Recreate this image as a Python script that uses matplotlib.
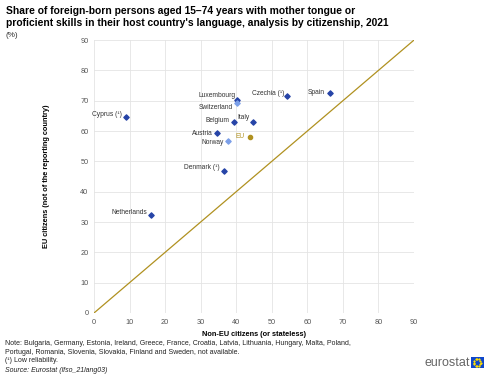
import numpy as np
import matplotlib
matplotlib.use("Agg")
import matplotlib.pyplot as plt

plt.rcParams["font.family"] = ["Liberation Sans", "DejaVu Sans"]

# data
countries = ["Cyprus (¹)", "Netherlands", "Luxembourg", "Czechia (¹)", "Spain",
             "Belgium", "Italy", "Austria", "Denmark (¹)"]
non_eu = [9.0, 16.1, 40.1, 54.4, 66.5, 39.3, 44.6, 34.7, 36.6]
eu_cit = [64.5, 32.2, 70.4, 71.6, 72.6, 63.1, 63.1, 59.3, 46.9]

efta = ["Switzerland", "Norway"]
efta_non_eu = [40.1, 37.6]
efta_eu_cit = [69.3, 56.6]

eu_label = "EU"
eu_non_eu = 43.9
eu_eu_cit = 57.9

ticks = list(range(0, 100, 10))

blue = "#2644A7"
light_blue = "#7B9FE8"
gold = "#B09120"

fig = plt.figure(figsize=(5, 3.78), dpi=100)
ax = fig.add_axes([0.188, 0.172, 0.640, 0.722])

ax.plot([0, 90], [0, 90], color=gold, lw=0.9, zorder=1)
ax.scatter(non_eu, eu_cit, marker="D", s=7, color=blue, zorder=3)
ax.scatter(efta_non_eu, efta_eu_cit, marker="D", s=7, color=light_blue, zorder=3)
ax.scatter([eu_non_eu], [eu_eu_cit], marker="o", s=9, color=gold, zorder=3)

# label offsets (points) for each marker
offs = {
    "Cyprus (¹)": (-3, 2), "Netherlands": (-3, 2),
    "Luxembourg": (-1, 3), "Czechia (¹)": (-2, 2),
    "Spain": (-4, 0), "Belgium": (-3, 1),
    "Italy": (-2, 3), "Austria": (-3, 0),
    "Denmark (¹)": (-3, 2),
}
for name, x, y in zip(countries, non_eu, eu_cit):
    dx, dy = offs[name]
    ax.annotate(name, (x, y), xytext=(dx, dy), textcoords="offset points",
                ha="right", va="center", fontsize=4.8, color="#333333")
ax.annotate("Switzerland", (efta_non_eu[0], efta_eu_cit[0]), xytext=(-3, -3),
            textcoords="offset points", ha="right", va="center", fontsize=4.8, color="#333333")
ax.annotate("Norway", (efta_non_eu[1], efta_eu_cit[1]), xytext=(-3, -1),
            textcoords="offset points", ha="right", va="center", fontsize=4.8, color="#333333")
ax.annotate(eu_label, (eu_non_eu, eu_eu_cit), xytext=(-4, 1),
            textcoords="offset points", ha="right", va="center", fontsize=4.8, color=gold)

ax.set_xlim(0, 90)
ax.set_ylim(0, 90)
ax.set_xticks(ticks)
ax.set_yticks(ticks)
ax.grid(True, color="#E4E4E4", lw=0.6)
ax.set_axisbelow(True)
for s in ax.spines.values():
    s.set_visible(False)
ax.tick_params(length=0, labelsize=5.3, colors="#555555", pad=4)

ax.set_xlabel("Non-EU citizens (or stateless)", fontsize=5.3, fontweight="bold", labelpad=4)
ax.set_ylabel("EU citizens (not of the reporting country)", fontsize=5.3, fontweight="bold", labelpad=22)

fig.text(0.012, 0.985, "Share of foreign-born persons aged 15\u201374 years with mother tongue or\n"
         "proficient skills in their host country's language, analysis by citizenship, 2021",
         fontsize=7.4, fontweight="bold", va="top", ha="left", linespacing=1.3)
fig.text(0.012, 0.916, "(%)", fontsize=5.8, va="top", ha="left", color="#333333")

fig.text(0.01, 0.101, "Note: Bulgaria, Germany, Estonia, Ireland, Greece, France, Croatia, Latvia, Lithuania, Hungary, Malta, Poland,\n"
         "Portugal, Romania, Slovenia, Slovakia, Finland and Sweden, not available.",
         fontsize=5, va="top", ha="left", color="#222222", linespacing=1.35)
fig.text(0.01, 0.055, "(¹) Low reliability.", fontsize=5, va="top", ha="left", color="#222222")
fig.text(0.01, 0.030, "Source: Eurostat (lfso_21lang03)", fontsize=5, va="top", ha="left",
         color="#222222", style="italic")

fig.text(0.94, 0.040, "eurostat", fontsize=9, color="#666666", ha="right", va="center")
flag = fig.add_axes([0.942, 0.027, 0.025, 0.028])
flag.set_facecolor("#0E47CB")
flag.set_xticks([])
flag.set_yticks([])
ang = np.linspace(0, 2 * np.pi, 12, endpoint=False)
flag.scatter(0.5 + 0.28 * np.cos(ang), 0.5 + 0.36 * np.sin(ang), s=0.3, color="#FFDD00", marker="*")
flag.set_xlim(0, 1)
flag.set_ylim(0, 1)
for s in flag.spines.values():
    s.set_visible(False)

fig.savefig("out.png", dpi=100)
